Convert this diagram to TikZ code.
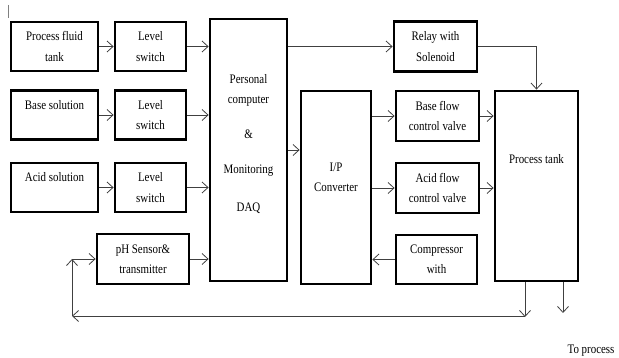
\documentclass[tikz,border=0pt]{standalone}
\usepackage{fontspec}
\setmainfont{Liberation Serif}[FakeStretch=0.84]
\usetikzlibrary{arrows.meta,positioning,calc}

\begin{document}
\begin{tikzpicture}[x=1pt,y=-1pt,>={Straight Barb[length=6pt,width=11pt]},
 font=\fontsize{13}{20.5}\selectfont,
 blk/.style={draw,line width=2.8pt,align=center,inner sep=0pt},
 src/.style={blk,minimum width=87pt,minimum height=49pt},
 sw/.style={blk,minimum width=71pt,minimum height=49pt},
 vlv/.style={blk,minimum width=83pt,minimum height=50pt},
 fl/.style={->,line width=0.8pt,black!75}]
\useasboundingbox (0,0) rectangle (619,358);
\draw[gray,thin] (8,5) -- (8,18);
% sources and level switches
\node[src] (pft) at (54.5,46.5) {Process fluid\\tank};
\node[sw] (ls1) at (150.5,46.5) {Level\\switch};
\node[src] (base) at (54.5,115) {Base solution\\\mbox{}};
\node[sw] (ls2) at (150.5,115) {Level\\switch};
\node[src] (acid) at (54.5,187.5) {Acid solution\\\mbox{}};
\node[sw] (ls3) at (150.5,187.5) {Level\\switch};
\node[blk,minimum width=92pt,minimum height=50pt] (ph) at (143,259) {pH Sensor\&\\transmitter};
% computer and converter
\node[blk,minimum width=77pt,minimum height=262pt] (pc) at (248.5,150) {Personal\\computer\\[14.5pt]\&\\[14.5pt]Monitoring\\[17.5pt]DAQ\\[-6pt]\mbox{}};
\node[blk,minimum width=70pt,minimum height=193pt] (ip) at (336,187.5) {I/P\\Converter\\\mbox{}};
% valves and tank
\node[vlv] (relay) at (435.5,46.5) {Relay with\\Solenoid};
\node[vlv] (bfv) at (437.5,116) {Base flow\\control valve};
\node[vlv] (afv) at (437.5,188) {Acid flow\\control valve};
\node[blk,minimum width=81pt,minimum height=49pt] (comp) at (436.5,259.5) {Compressor\\with};
\node[blk,minimum width=83pt,minimum height=190pt] (tank) at (536.5,186) {};
\node (tanktxt) at ([yshift=27pt]tank.center) {Process tank};
\node[anchor=base east] (topro) at (618,353) {To process};
% connectors
\foreach \a/\b in {pft/ls1,base/ls2,acid/ls3} \draw[fl] (\a) -- (\b);
\foreach \a in {ls1,ls2,ls3,ph} \draw[fl] (\a) -- (\a -| pc.west);
\draw[fl] (relay -| pc.east) -- (relay);
\draw[fl] (relay.east) -| (tank.north);
\draw[fl] (pc.east) -- (pc.east -| ip.west);
\foreach \a in {bfv,afv} {
 \draw[fl] (\a -| ip.east) -- (\a);
 \draw[fl] (\a) -- (\a -| tank.west);
}
\draw[fl] (comp) -- (comp -| ip.east);
% outlets and feedback
\coordinate (fb1) at (525,317);
\coordinate (fb2) at (72,316);
\coordinate (fb3) at (72,259);
\coordinate (out) at (563,313);
\draw[fl] (fb1 |- tank.south) -- (fb1);
\draw[fl] (out |- tank.south) -- (out);
\draw[fl] (525,316) -- (fb2);
\draw[fl] (fb2) -- (fb3);
\draw[fl] (fb3) -- (ph.west);
\end{tikzpicture}
\end{document}
